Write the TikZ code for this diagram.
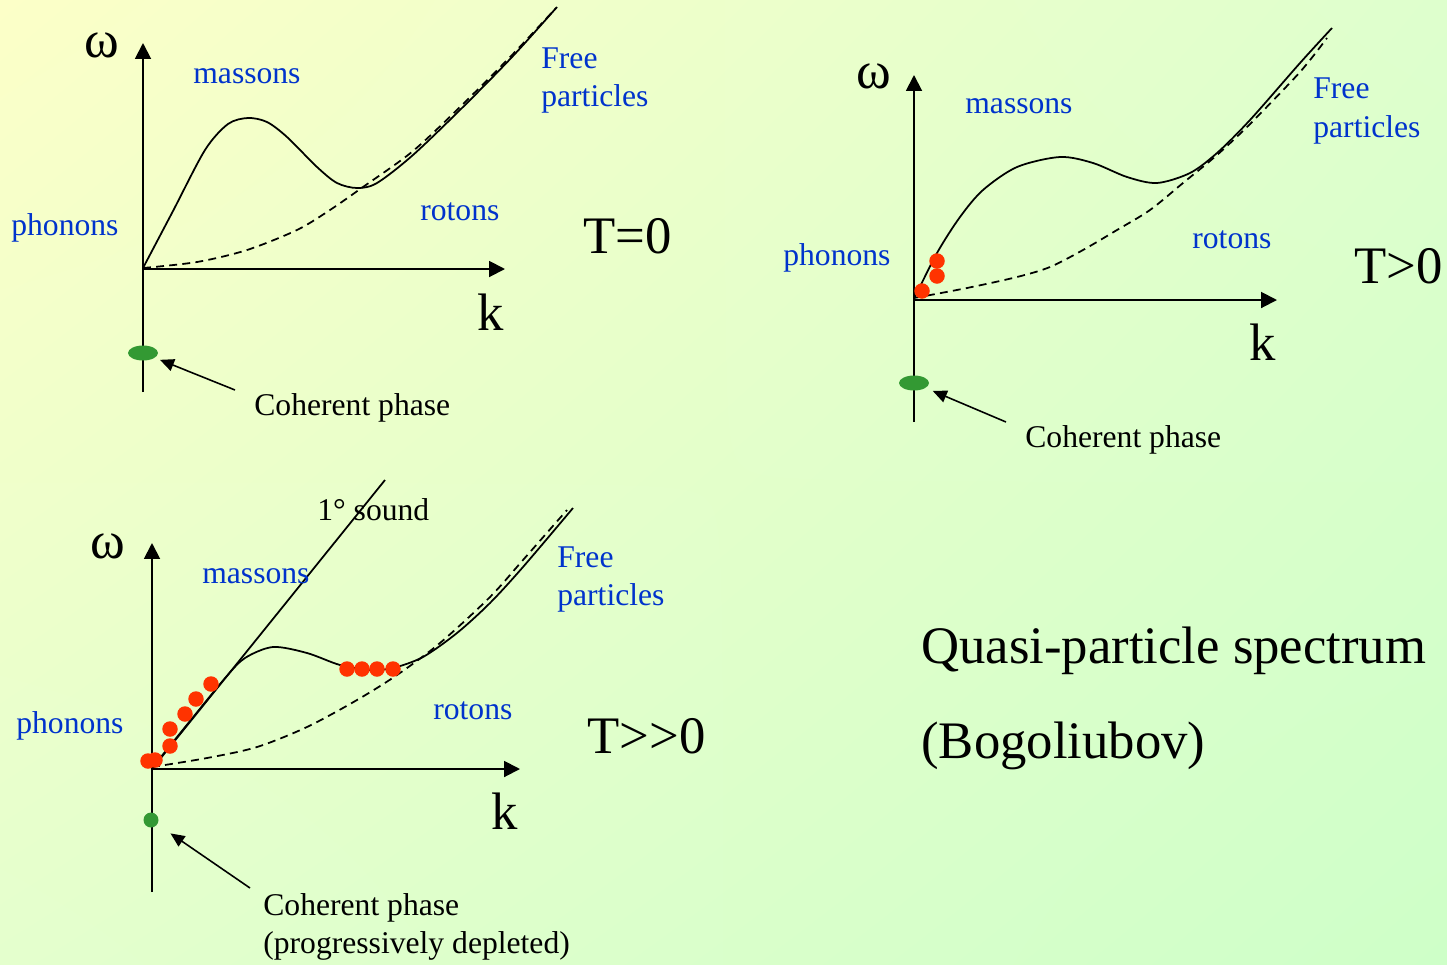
\documentclass[tikz,border=0pt]{standalone}
\usepackage{fontspec}
\setmainfont{Liberation Serif}
\usetikzlibrary{arrows.meta,shapes.geometric,shadings}
\definecolor{lblue}{RGB}{0,51,204}
\definecolor{dotred}{RGB}{255,51,0}
\definecolor{bosegreen}{RGB}{51,153,51}
\definecolor{bgul}{RGB}{252,255,200}
\definecolor{bgur}{RGB}{222,255,205}
\definecolor{bgll}{RGB}{228,255,205}
\definecolor{bglr}{RGB}{206,255,200}
\tikzset{
  axis/.style={-{Triangle[length=9pt,width=9pt]}, line width=1.1pt},
  disp/.style={line width=1pt, line join=round},
  freep/.style={line width=1pt, dash pattern=on 4.5pt off 3pt},
  lbl/.style={anchor=base west, inner sep=0pt, text=lblue, font=\fontsize{18}{21.5}\selectfont},
  note/.style={anchor=base west, inner sep=0pt, font=\fontsize{18}{21.5}\selectfont},
  big/.style={anchor=base west, inner sep=0pt, font=\fontsize{30}{36}\selectfont},
  qdot/.style={circle, fill=dotred, inner sep=0pt, minimum size=0.31cm},
  cond/.style={ellipse, fill=bosegreen, inner sep=0pt, minimum width=0.6cm, minimum height=0.3cm},
  ptr/.style={-{Triangle[length=8pt,width=7pt]}, line width=0.9pt},
}
\begin{document}
\begin{tikzpicture}[x=0.02cm,y=-0.02cm]
  \shade[upper left=bgul, upper right=bgur, lower left=bgll, lower right=bglr]
    (0,0) rectangle (1447,964);
  \useasboundingbox (0,0) rectangle (1447,964);

  % T=0
  \coordinate (o1) at (143,269);
  \coordinate (b1) at (143,392);
  \coordinate (w1) at (143,43);
  \coordinate (k1) at (505,269);
  \draw[axis] (b1) -- (w1);
  \draw[axis] (o1) -- (k1);
  \draw[freep] plot[smooth] coordinates {(143,268) (197,262) (247,250) (297,230) (330,210)
    (363,187) (413,151) (463,104) (513,54) (556,8)};
  \draw[disp] plot[smooth] coordinates {(143,268) (173,211) (205,150) (228,124) (248,118) (267,122)
    (287,137) (317,167) (337,183) (357,188) (377,183) (413,155) (463,107) (513,56) (557,7)};
  \node[big] (om1) at (84,57) {ω};
  \node[big] (kl1) at (477,330) {k};
  \node[lbl] (ma1) at (193,83) {massons};
  \node[lbl] (fr1) at (541,68) {Free};
  \node[lbl] (pa1) at (541,106) {particles};
  \node[lbl] (ph1) at (11,235) {phonons};
  \node[lbl] (ro1) at (420,220) {rotons};
  \node[big] (te1) at (583,253) {T=0};
  \node[cond] (g1) at (143,353) {};
  \node[note] (cp1) at (254,415) {Coherent phase};
  \coordinate (a1) at (235,390);
  \draw[ptr, shorten >=3pt] (a1) -- (g1);

  % T>0
  \coordinate (o2) at (914,300);
  \coordinate (b2) at (914,422);
  \coordinate (w2) at (914,75);
  \coordinate (k2) at (1277,300);
  \draw[axis] (b2) -- (w2);
  \draw[axis] (o2) -- (k2);
  \draw[freep] plot[smooth] coordinates {(914,298) (967,288) (1017,277) (1050,267) (1083,250)
    (1117,230) (1150,210) (1183,183) (1217,155) (1250,124) (1300,72) (1327,38)};
  \draw[disp] plot[smooth] coordinates {(914,299) (937,253) (960,217) (983,190) (1017,167)
    (1060,157) (1093,163) (1127,177) (1157,183) (1190,173) (1217,153) (1250,120) (1300,63) (1332,28)};
  \foreach \p [count=\i] in {(922,291),(937,261),(937,276)}
    \node[qdot] (r2-\i) at \p {};
  \node[big] (om2) at (856,88) {ω};
  \node[big] (kl2) at (1249,360) {k};
  \node[lbl] (ma2) at (965,113) {massons};
  \node[lbl] (fr2) at (1313,98) {Free};
  \node[lbl] (pa2) at (1313,137) {particles};
  \node[lbl] (ph2) at (783,265) {phonons};
  \node[lbl] (ro2) at (1192,248) {rotons};
  \node[big] (te2) at (1354,283) {T>0};
  \node[cond] (g2) at (914,383) {};
  \node[note] (cp2) at (1025,447) {Coherent phase};
  \coordinate (a2) at (1006,422);
  \draw[ptr, shorten >=4.3pt] (a2) -- (g2);

  % T>>0
  \coordinate (o3) at (152,769);
  \coordinate (b3) at (152,892);
  \coordinate (w3) at (152,543);
  \coordinate (k3) at (520,769);
  \coordinate (s3) at (385,480);
  \draw[axis] (b3) -- (w3);
  \draw[axis] (o3) -- (k3);
  \draw[disp] (o3) -- (s3);
  \draw[freep] plot[smooth] coordinates {(152,767) (207,758) (257,747) (307,727) (357,700)
    (397,675) (440,643) (490,597) (523,560) (567,510)};
  \draw[disp] plot[smooth] coordinates {(152,768) (190,721) (226,677) (245,658) (273,647)
    (307,653) (340,665) (370,670) (393,668) (423,657) (457,633) (490,603) (523,567) (573,508)};
  \foreach \p [count=\i] in {(148,761),(155,760),(170,746),(170,729),(185,714),(196,699),(211,684),
    (347,669),(362,669),(377,669),(393,669)}
    \node[qdot] (r3-\i) at \p {};
  \node[big] (om3) at (90,558) {ω};
  \node[big] (kl3) at (491,829) {k};
  \node[note] (sd3) at (317,520) {1° sound};
  \node[lbl] (ma3) at (202,583) {massons};
  \node[lbl] (fr3) at (557,567) {Free};
  \node[lbl] (pa3) at (557,605) {particles};
  \node[lbl] (ph3) at (16,733) {phonons};
  \node[lbl] (ro3) at (433,719) {rotons};
  \node[big] (te3) at (587,753) {T{>}{>}0};
  \node[circle, fill=bosegreen, inner sep=0pt, minimum size=0.3cm] (g3) at (151,820) {};
  \node[note] (cp3) at (263,915) {Coherent phase};
  \node[note] (pd3) at (263,953) {(progressively depleted)};
  \coordinate (a3) at (250,888);
  \draw[ptr, shorten >=9pt] (a3) -- (g3);

  \node[big] (qp) at (921,663) {Quasi-particle spectrum};
  \node[big] (bg) at (921,758) {(Bogoliubov)};
\end{tikzpicture}
\end{document}
